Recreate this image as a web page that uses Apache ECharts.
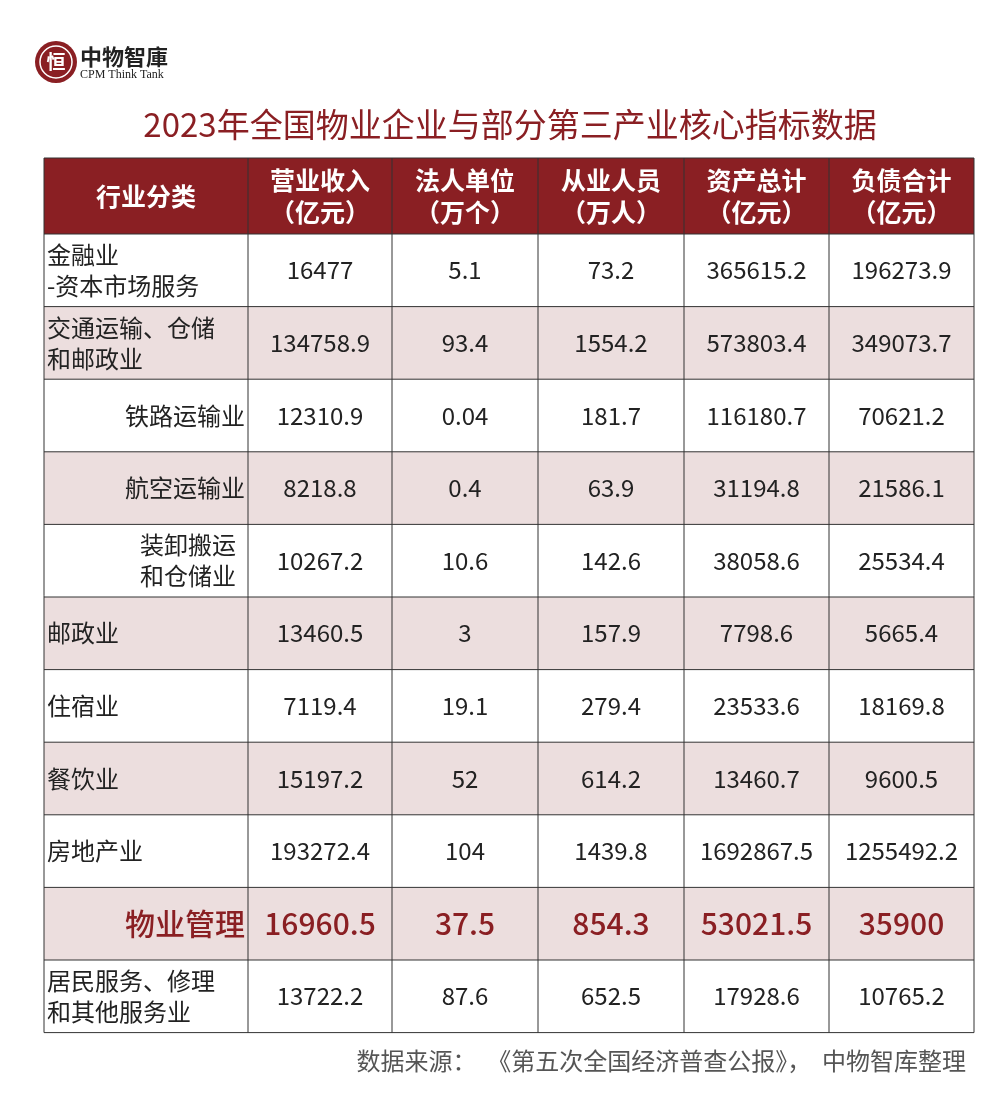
<!DOCTYPE html>
<html>
<head>
<meta charset="utf-8">
<script src="https://cdn.jsdelivr.net/npm/echarts@6/dist/echarts.min.js"></script>
<style>html,body{margin:0;padding:0;background:#fff}#main{width:1000px;height:1093px}</style>
</head>
<body>
<div id="main"></div>
<script>
var title = '2023年全国物业企业与部分第三产业核心指标数据';
var headers = ['行业分类', '营业收入\n（亿元）', '法人单位\n（万个）', '从业人员\n（万人）', '资产总计\n（亿元）', '负债合计\n（亿元）'];
var categories = ['金融业\n-资本市场服务', '交通运输、仓储\n和邮政业', '铁路运输业', '航空运输业', '装卸搬运\n和仓储业', '邮政业', '住宿业', '餐饮业', '房地产业', '物业管理', '居民服务、修理\n和其他服务业'];
var revenue = ['16477', '134758.9', '12310.9', '8218.8', '10267.2', '13460.5', '7119.4', '15197.2', '193272.4', '16960.5', '13722.2'];
var units = ['5.1', '93.4', '0.04', '0.4', '10.6', '3', '19.1', '52', '104', '37.5', '87.6'];
var staff = ['73.2', '1554.2', '181.7', '63.9', '142.6', '157.9', '279.4', '614.2', '1439.8', '854.3', '652.5'];
var assets = ['365615.2', '573803.4', '116180.7', '31194.8', '38058.6', '7798.6', '23533.6', '13460.7', '1692867.5', '53021.5', '17928.6'];
var debts = ['196273.9', '349073.7', '70621.2', '21586.1', '25534.4', '5665.4', '18169.8', '9600.5', '1255492.2', '35900', '10765.2'];
var source = '数据来源：  《第五次全国经济普查公报》，  中物智库整理';

var colX = [44, 248, 392, 538, 684, 829, 974];
var headTop = 158, headBottom = 234, rowH = 72.6;
var dark = '#8a1f23', stripe = '#ecdede', font = '"Noto Sans CJK SC", sans-serif';
var highlight = 9;
// label placement: 'l' left, 'r' right, 'i' indented left
var catAlign = ['l', 'l', 'r', 'r', 'i', 'l', 'l', 'l', 'l', 'r', 'l'];

var g = [];
// logo
g.push({type: 'circle', shape: {cx: 56, cy: 62, r: 21}, style: {fill: dark}});
g.push({type: 'circle', shape: {cx: 56, cy: 62, r: 16}, style: {fill: 'none', stroke: '#fff', lineWidth: 1.5}});
g.push({type: 'text', style: {x: 56, y: 62, text: '恒', fill: '#fff', font: 'bold 19px ' + font, align: 'center', verticalAlign: 'middle'}});
g.push({type: 'text', style: {x: 80, y: 57, text: '中物智庫', fill: '#222', font: 'bold 22px "Noto Sans CJK SC", serif', verticalAlign: 'middle'}});
g.push({type: 'text', style: {x: 80, y: 75, text: 'CPM Think Tank', fill: '#222', font: '12px "Liberation Serif", serif', verticalAlign: 'middle'}});
g.push({type: 'text', style: {x: 510, y: 124, text: title, fill: dark, font: '33px ' + font, align: 'center', verticalAlign: 'middle'}});

// header
g.push({type: 'rect', shape: {x: colX[0], y: headTop, width: colX[6] - colX[0], height: headBottom - headTop}, style: {fill: dark}});
headers.forEach(function (h, i) {
    g.push({type: 'text', style: {x: (colX[i] + colX[i + 1]) / 2, y: (headTop + headBottom) / 2, text: h, fill: '#fff', font: 'bold 25px ' + font, align: 'center', verticalAlign: 'middle', lineHeight: 32}});
});

var cols = [revenue, units, staff, assets, debts];
categories.forEach(function (c, r) {
    var y0 = headBottom + r * rowH, ym = y0 + rowH / 2;
    if (r % 2 === 1) g.push({type: 'rect', shape: {x: colX[0], y: y0, width: colX[6] - colX[0], height: rowH}, style: {fill: stripe}});
    var hl = r === highlight;
    var a = catAlign[r];
    var tx = a === 'r' ? colX[1] - 3 : (a === 'i' ? 140 : colX[0] + 3);
    var f = (hl ? '500 30px ' : '24px ') + font;
    g.push({type: 'text', style: {x: tx, y: ym, text: c, fill: hl ? dark : '#222', font: f, align: a === 'r' ? 'right' : 'left', verticalAlign: 'middle', lineHeight: 31}});
    cols.forEach(function (arr, k) {
        g.push({type: 'text', style: {x: (colX[k + 1] + colX[k + 2]) / 2, y: ym, text: arr[r], fill: hl ? dark : '#222', font: f, align: 'center', verticalAlign: 'middle'}});
    });
});

// grid lines
var tableBottom = headBottom + categories.length * rowH;
for (var r = 0; r <= categories.length; r++) {
    var yy = headBottom + r * rowH;
    g.push({type: 'line', shape: {x1: colX[0], y1: yy, x2: colX[6], y2: yy}, style: {stroke: '#333', lineWidth: 1}});
}
g.push({type: 'line', shape: {x1: colX[0], y1: headTop, x2: colX[6], y2: headTop}, style: {stroke: '#333', lineWidth: 1}});
colX.forEach(function (x) {
    g.push({type: 'line', shape: {x1: x, y1: headTop, x2: x, y2: tableBottom}, style: {stroke: '#333', lineWidth: 1}});
});
g.push({type: 'text', style: {x: 966, y: 1061, text: source, fill: '#555', font: '24px ' + font, align: 'right', verticalAlign: 'middle'}});

var myChart = echarts.init(document.getElementById('main'));
myChart.setOption({animation: false, graphic: {elements: g}});
</script>
</body>
</html>
